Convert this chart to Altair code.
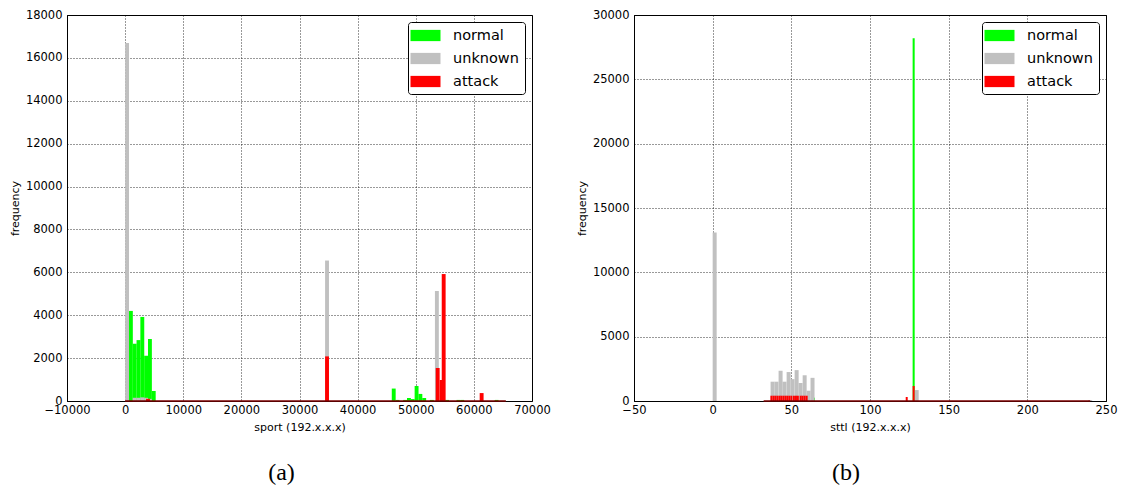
import altair as alt
import pandas as pd

SERIES = ["normal", "unknown", "attack"]
COLORS = ["#00ff00", "#c0c0c0", "#ff0000"]

# ---- sport (192.x.x.x): left bin edges and counts for each class ----
sport_width = 670
sport_normal_edges = [655, 1311, 1966, 2621, 3277, 3932, 4588,
                      45875, 46530, 47841, 48496, 49152, 49807, 50462, 51118,
                      52429, 55050, 57016, 57672, 63570]
sport_normal_counts = [4200, 2670, 2840, 3920, 2110, 2890, 470,
                       580, 50, 50, 140, 90, 700, 330, 140,
                       50, 50, 50, 50, 50]
sport_unknown_edges = [0, 1311, 1966, 2621, 3277, 3932, 34400, 53300]
sport_unknown_counts = [16700, 150, 150, 170, 150, 100, 6550, 5130]
sport_attack_edges = [3600, 34400, 53440, 54125, 54470, 61000]
sport_attack_counts = [100, 2080, 1540, 980, 5920, 370]
sport_attack_span = [0, 65500]

# ---- sttl (192.x.x.x) ----
sttl_normal_width = 1.3
sttl_normal_edges = [63.6, 127.1]
sttl_normal_counts = [260, 28200]
sttl_unknown_width = 2.54
sttl_unknown_edges = [0, 36.8, 39.3, 41.9, 44.4, 47.0, 49.5, 52.1, 54.6,
                      57.2, 59.7, 62.2, 128.4, 238.7]
sttl_unknown_counts = [13100, 1500, 1500, 2350, 1500, 2250, 1700, 2400,
                       1400, 2000, 800, 1800, 850, 80]
sttl_attack_width = 1.27
sttl_attack_edges = [36.7, 38.0, 39.2, 40.5, 41.8, 43.0, 44.3, 45.6, 46.8,
                     48.1, 49.4, 51.0, 52.3, 53.5, 55.3, 56.5, 57.8, 59.1,
                     122.7, 127.1]
sttl_attack_counts = [410, 410, 410, 410, 410, 410, 410, 410, 410,
                      410, 410, 410, 410, 410, 410, 410, 410, 410,
                      310, 1165]
sttl_attack_span = [32.4, 240]


def frame(groups):
    rows = []
    for name, edges, counts, width in groups:
        for e, c in zip(edges, counts):
            rows.append({"series": name, "x0": e, "x1": e + width,
                         "count": c, "zero": 0})
    return pd.DataFrame(rows)


sport_df = frame([
    ("normal", sport_normal_edges, sport_normal_counts, sport_width),
    ("unknown", sport_unknown_edges, sport_unknown_counts, sport_width),
    ("attack", sport_attack_edges, sport_attack_counts, sport_width),
])
sttl_df = frame([
    ("normal", sttl_normal_edges, sttl_normal_counts, sttl_normal_width),
    ("unknown", sttl_unknown_edges, sttl_unknown_counts, sttl_unknown_width),
    ("attack", sttl_attack_edges, sttl_attack_counts, sttl_attack_width),
])

AXIS_FONT = "DejaVu Sans"
# wide, short legend swatch (path extends past the unit square)
SWATCH = "M-2,-0.75L2,-0.75L2,0.75L-2,0.75Z"


def panel(df, span, xdom, xticks, ydom, yticks, xtitle, label, width, dx):
    xscale = alt.Scale(domain=xdom, nice=False, zero=False, padding=0)
    yscale = alt.Scale(domain=ydom, nice=False, padding=0)
    bars = alt.Chart(df).mark_bar(strokeWidth=0, opacity=1).encode(
        x=alt.X("x0:Q", scale=xscale,
                axis=alt.Axis(values=xticks, title=xtitle, format="d",
                              labelFlush=False, labelPadding=3,
                              titlePadding=6)),
        x2="x1:Q",
        y=alt.Y("count:Q", scale=yscale, stack=None,
                axis=alt.Axis(values=yticks, title="frequency", format="d",
                              labelPadding=5, titlePadding=5)),
        y2="zero:Q",
        color=alt.Color(
            "series:N",
            scale=alt.Scale(domain=SERIES, range=COLORS),
            legend=alt.Legend(
                title=None, orient="top-right", offset=7,
                symbolType=SWATCH, symbolSize=225, symbolOffset=4,
                symbolStrokeWidth=0, symbolOpacity=1,
                labelFont=AXIS_FONT, labelFontSize=14.5, labelColor="black",
                labelOffset=20, rowPadding=8, padding=6,
                strokeColor="black", fillColor="white", cornerRadius=3,
            ),
        ),
    )
    base = alt.Chart(pd.DataFrame({"a": [span[0]], "b": [span[1]], "y": [0]})).mark_rule(
        color="#7a0000", strokeWidth=1.5
    ).encode(x=alt.X("a:Q", scale=xscale), x2="b:Q", y=alt.Y("y:Q", scale=yscale))
    return alt.layer(bars, base).properties(
        width=width, height=386,
        title=alt.TitleParams(label, orient="bottom", font="Liberation Serif",
                              fontSize=24, fontWeight="normal", color="black",
                              offset=28, dx=dx, anchor="middle"),
    )


left = panel(sport_df, sport_attack_span, [-10000, 70000],
             list(range(-10000, 70001, 10000)), [0, 18000],
             list(range(0, 18001, 2000)), "sport (192.x.x.x)", "(a)", 465, -18)
right = panel(sttl_df, sttl_attack_span, [-50, 250],
              list(range(-50, 251, 50)), [0, 30000],
              list(range(0, 30001, 5000)), "sttl (192.x.x.x)", "(b)", 472, -24)

chart = alt.hconcat(left, right, spacing=102, bounds="flush").resolve_scale(
    color="independent"
).properties(
    padding={"left": 8, "top": 8, "right": 5, "bottom": 5},
    background="white",
).configure_view(
    stroke="black", strokeWidth=1
).configure_axis(
    labelFont=AXIS_FONT, labelFontSize=11.5, labelColor="black",
    titleFont=AXIS_FONT, titleFontSize=11, titleFontWeight="normal",
    titleColor="black", domainColor="black", ticks=False,
    grid=True, gridColor="black", gridDash=[1, 2], gridOpacity=0.8,
    gridWidth=1,
)

chart.save("out.html", embed_options={"renderer": "svg", "actions": False})
